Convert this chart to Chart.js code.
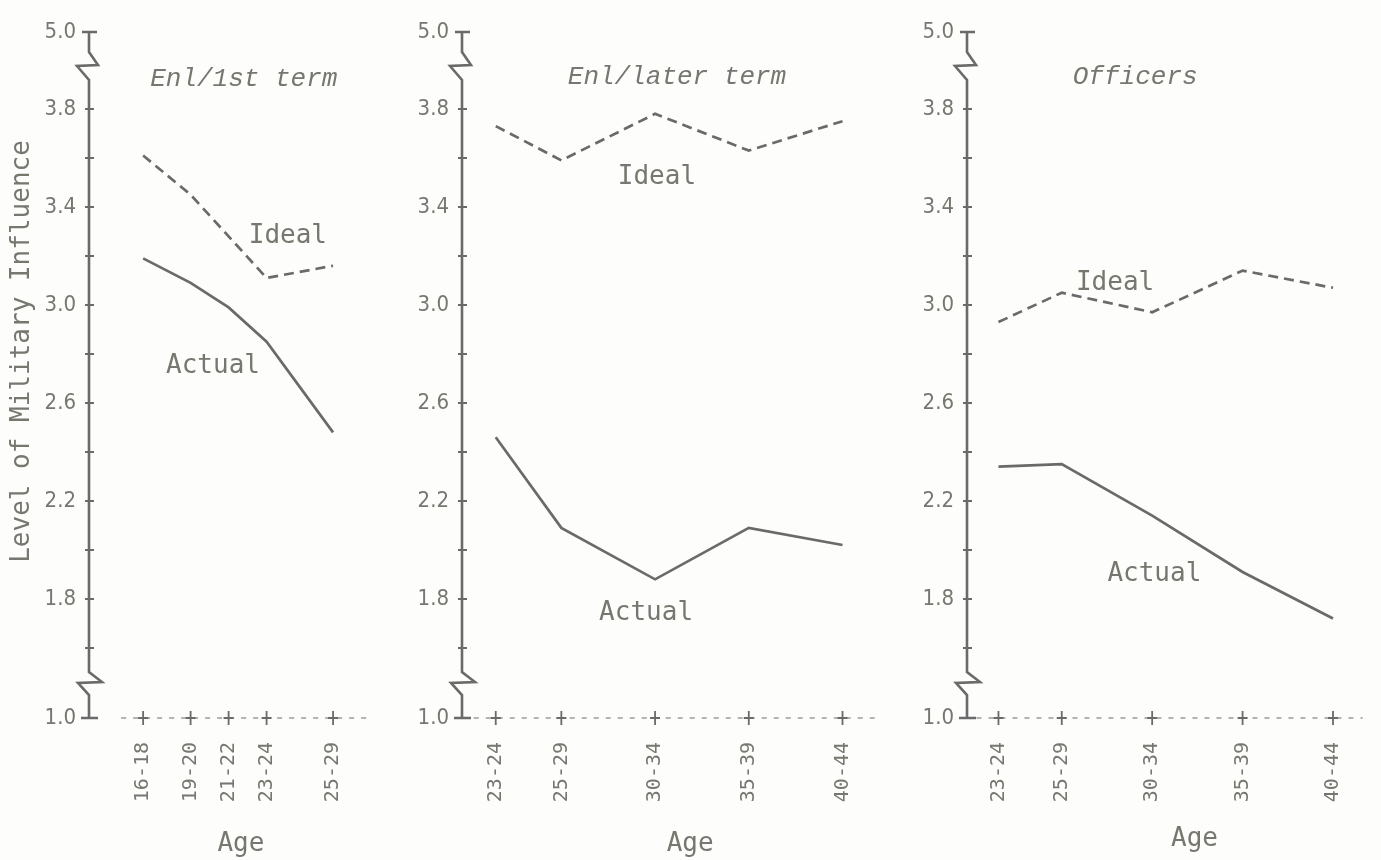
<!DOCTYPE html>
<html>
<head>
<meta charset="utf-8">
<script src="https://cdn.jsdelivr.net/npm/chart.js@4.4.1/dist/chart.umd.min.js"></script>
<style>
  html, body { margin: 0; background: #fdfdfc; }
  body { width: 1381px; height: 860px; position: relative; overflow: hidden; }
  canvas { position: absolute; top: 0; }
</style>
</head>
<body>
<canvas id="enlFirst" width="400" height="860" style="left:0px"></canvas>
<canvas id="enlLater" width="520" height="860" style="left:380px"></canvas>
<canvas id="officers" width="491" height="860" style="left:890px"></canvas>
<script>
// --- data ---
const ages1 = ["16-18", "19-20", "21-22", "23-24", "25-29"];
const ageMid1 = [17, 19.5, 21.5, 23.5, 27];
const ideal1 = [3.61, 3.45, 3.28, 3.11, 3.16];
const actual1 = [3.19, 3.09, 2.99, 2.85, 2.48];

const ages2 = ["23-24", "25-29", "30-34", "35-39", "40-44"];
const ageMid2 = [23.5, 27, 32, 37, 42];
const ideal2 = [3.73, 3.59, 3.78, 3.63, 3.75];
const actual2 = [2.46, 2.09, 1.88, 2.09, 2.02];

const ages3 = ["23-24", "25-29", "30-34", "35-39", "40-44"];
const ageMid3 = [23.5, 27, 32, 37, 42];
const ideal3 = [2.93, 3.05, 2.97, 3.14, 3.07];
const actual3 = [2.34, 2.35, 2.14, 1.91, 1.72];

// y axis: 1.6 .. 3.8 in steps of 0.2, broken at both ends (1.0 and 5.0)
const yTicks = [1.6, 1.8, 2.0, 2.2, 2.4, 2.6, 2.8, 3.0, 3.2, 3.4, 3.6, 3.8];
const yTickLabels = ["1.8", "2.2", "2.6", "3.0", "3.4", "3.8"];
const yBreakLabels = ["1.0", "5.0"];

const INK = "#6a6a6a";
const TEXT = "#777770";
const MONO = "'DejaVu Sans Mono', 'Liberation Mono', monospace";
const TYPE_ITALIC = "'Liberation Mono', 'Courier New', monospace";
const NARROW = "'DejaVu Sans Condensed', 'Liberation Sans Narrow', 'Liberation Sans', sans-serif";

// broken axes, tick crosses, hand labels
const axisArt = {
  id: "axisArt",
  afterDraw(chart, args, opts) {
    const { ctx, chartArea: a, scales: { x, y } } = chart;
    const ax = a.left, yt = a.top, yb = a.bottom;
    ctx.save();
    ctx.strokeStyle = INK;
    ctx.lineWidth = 2.6;
    ctx.lineJoin = "miter";
    ctx.beginPath();
    ctx.moveTo(ax - 7, yt); ctx.lineTo(ax + 8, yt);
    ctx.moveTo(ax, yt);
    ctx.lineTo(ax, yt + 20);
    ctx.lineTo(ax + 9, yt + 33);
    ctx.lineTo(ax - 12, yt + 34);
    ctx.lineTo(ax, yt + 48);
    ctx.lineTo(ax, yb - 46);
    ctx.lineTo(ax + 13, yb - 36);
    ctx.lineTo(ax - 11, yb - 35);
    ctx.lineTo(ax, yb - 23);
    ctx.lineTo(ax, yb);
    ctx.moveTo(ax - 8, yb); ctx.lineTo(ax + 9, yb);
    ctx.stroke();

    ctx.lineWidth = 2;
    ctx.beginPath();
    yTicks.forEach(v => {
      const py = y.getPixelForValue(v);
      ctx.moveTo(ax - 4, py); ctx.lineTo(ax + 5, py);
    });
    ctx.stroke();

    // dotted baseline with + ticks
    const first = x.getPixelForValue(opts.mids[0]);
    ctx.lineWidth = 1.2;
    ctx.setLineDash([5, 7]);
    ctx.beginPath();
    ctx.moveTo(first - 22, yb); ctx.lineTo(a.right, yb);
    ctx.stroke();
    ctx.setLineDash([]);
    ctx.lineWidth = 1.8;
    ctx.beginPath();
    opts.mids.forEach(m => {
      const px = x.getPixelForValue(m);
      ctx.moveTo(px - 5, yb); ctx.lineTo(px + 5, yb);
      ctx.moveTo(px, yb - 7); ctx.lineTo(px, yb + 7);
    });
    ctx.stroke();

    ctx.fillStyle = TEXT;
    ctx.textAlign = "center";
    ctx.textBaseline = "middle";
    opts.notes.forEach(n => {
      ctx.save();
      ctx.font = n.font;
      ctx.translate(x.getPixelForValue(n.x), y.getPixelForValue(n.y));
      if (n.rot) ctx.rotate(n.rot * Math.PI / 180);
      ctx.fillText(n.text, 0, 0);
      ctx.restore();
    });
    ctx.restore();
  }
};

function makePanel(id, p) {
  const pts = vals => p.mids.map((m, i) => ({ x: m, y: vals[i] }));
  return new Chart(document.getElementById(id), {
    type: "line",
    data: {
      datasets: [
        { label: "Ideal", data: pts(p.ideal), borderColor: INK, borderWidth: 2.7,
          borderDash: [10, 6], pointRadius: 0, tension: 0, fill: false },
        { label: "Actual", data: pts(p.actual), borderColor: INK, borderWidth: 2.7,
          pointRadius: 0, tension: 0, fill: false }
      ]
    },
    options: {
      responsive: false,
      animation: false,
      devicePixelRatio: 1,
      layout: { padding: { top: 32, right: p.padRight, left: 0, bottom: 0 } },
      plugins: {
        legend: { display: false },
        tooltip: { enabled: false },
        axisArt: { mids: p.mids, notes: p.notes }
      },
      scales: {
        x: {
          type: "linear",
          min: p.xMin,
          max: p.xMax,
          grid: { display: false, drawTicks: false },
          border: { display: false },
          afterBuildTicks: s => { s.ticks = p.mids.map(v => ({ value: v })); },
          afterFit: s => { s.height = 142; },
          ticks: {
            autoSkip: false,
            minRotation: 90,
            maxRotation: 90,
            padding: 24,
            color: TEXT,
            font: { family: MONO, size: 20 },
            callback: v => p.ages[p.mids.indexOf(v)]
          }
        },
        y: {
          type: "linear",
          min: 1.314,
          max: 4.114,
          grid: { display: false, drawTicks: false },
          border: { display: false },
          afterBuildTicks: s => {
            s.ticks = [s.min, ...yTicks, s.max].map(v => ({ value: v }));
          },
          afterFit: s => { s.width = p.yWidth; },
          ticks: {
            autoSkip: false,
            padding: 13,
            color: TEXT,
            font: { family: NARROW, size: 22 },
            callback: function (v) {
              if (Math.abs(v - this.min) < 1e-6) return yBreakLabels[0];
              if (Math.abs(v - this.max) < 1e-6) return yBreakLabels[1];
              const t = v.toFixed(1);
              return yTickLabels.includes(t) ? t : "";
            }
          }
        }
      }
    },
    plugins: [axisArt]
  });
}

const labelFont = "26px " + MONO;
const titleFont = "italic 26px " + TYPE_ITALIC;

makePanel("enlFirst", {
  ages: ages1, mids: ageMid1, ideal: ideal1, actual: actual1,
  xMin: 14.15, xMax: 29.05, yWidth: 89, padRight: 28,
  notes: [
    { text: "Enl/1st term", x: 22.3, y: 3.92, font: titleFont },
    { text: "Ideal", x: 24.62, y: 3.28, font: labelFont },
    { text: "Actual", x: 20.68, y: 2.75, font: labelFont },
    { text: "Age", x: 22.15, y: 0.80, font: labelFont },
    { text: "Level of Military Influence", x: 10.62, y: 2.81, rot: -90, font: labelFont }
  ]
});

makePanel("enlLater", {
  ages: ages2, mids: ageMid2, ideal: ideal2, actual: actual2,
  xMin: 21.7, xMax: 44.0, yWidth: 82, padRight: 20,
  notes: [
    { text: "Enl/later term", x: 33.17, y: 3.93, font: titleFont },
    { text: "Ideal", x: 32.1, y: 3.52, font: labelFont },
    { text: "Actual", x: 31.52, y: 1.74, font: labelFont },
    { text: "Age", x: 33.87, y: 0.80, font: labelFont }
  ]
});

makePanel("officers", {
  ages: ages3, mids: ageMid3, ideal: ideal3, actual: actual3,
  xMin: 21.76, xMax: 43.64, yWidth: 77, padRight: 0,
  notes: [
    { text: "Officers", x: 31.06, y: 3.93, font: titleFont },
    { text: "Ideal", x: 29.95, y: 3.09, font: labelFont },
    { text: "Actual", x: 32.12, y: 1.90, font: labelFont },
    { text: "Age", x: 34.34, y: 0.82, font: labelFont }
  ]
});
</script>
</body>
</html>
